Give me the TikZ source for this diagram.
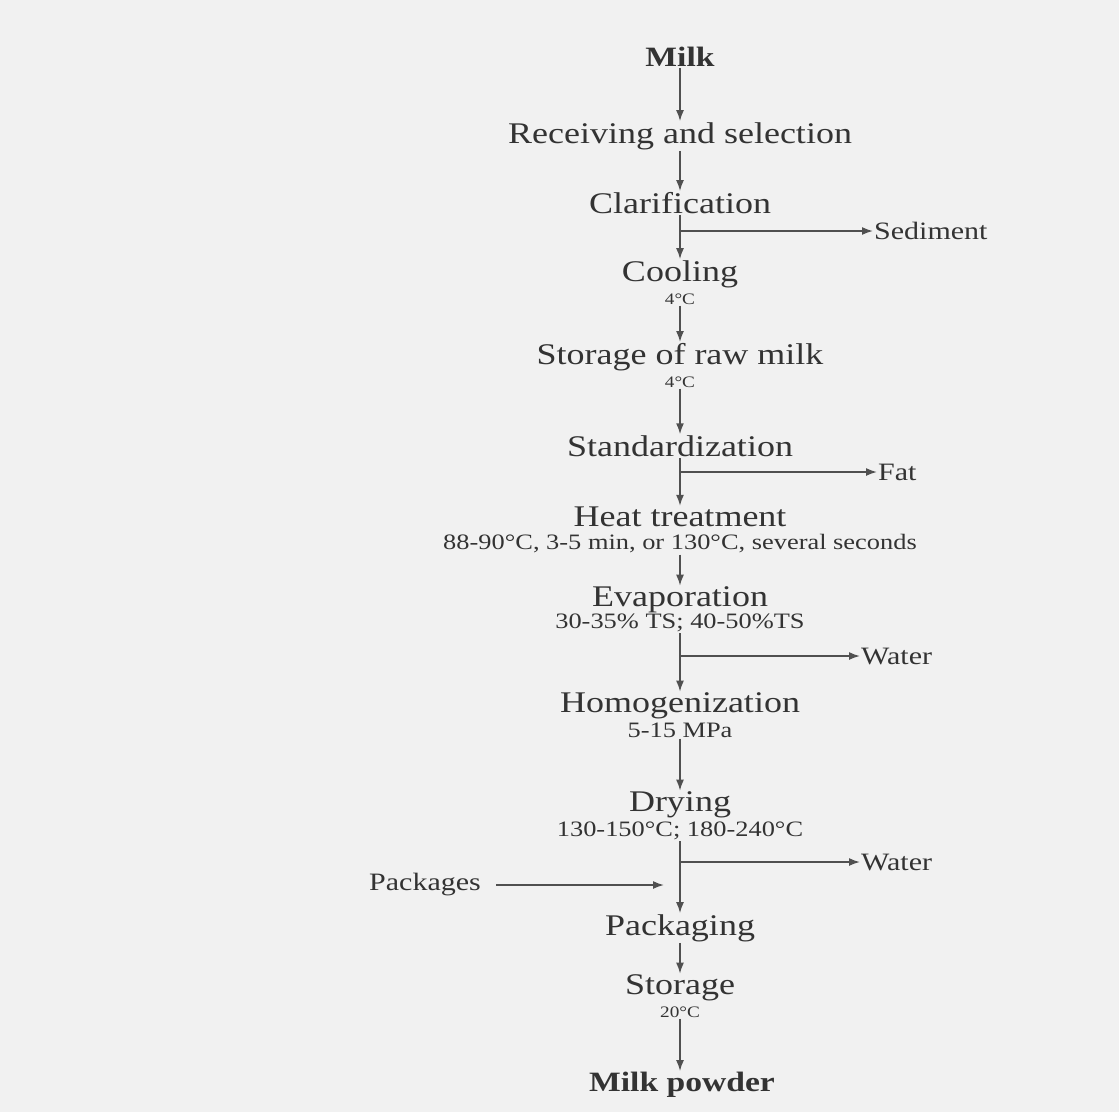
\documentclass[tikz,border=0pt]{standalone}
\usepackage{fontspec}
\setmainfont{Liberation Serif}[FakeStretch=1.2]
\usetikzlibrary{arrows.meta}
\definecolor{ink}{HTML}{333333}
\definecolor{wire}{HTML}{505050}
\definecolor{paper}{HTML}{F1F1F1}
\begin{document}
\begin{tikzpicture}[x=1pt,y=-1pt,
  stage/.style={font=\fontsize{30}{32}\selectfont, text=ink, inner sep=1pt},
  endstage/.style={font=\bfseries\fontsize{28}{30}\selectfont, text=ink, inner sep=1pt},
  cond/.style={font=\fontsize{22}{24}\selectfont, text=ink, inner sep=1pt},
  tinycond/.style={font=\fontsize{16}{18}\selectfont, text=ink, inner sep=1pt},
  side/.style={font=\fontsize{25}{27}\selectfont, text=ink, inner sep=1pt},
  wireline/.style={draw=wire, line width=1.6pt},
  arr/.style={wireline, -{Latex[length=11pt,width=8pt]}}
]
\fill[paper] (0,0) rectangle (1119,1112);
\useasboundingbox (0,0) rectangle (1119,1112);

% main stages
\node[endstage] (milk) at (680,57) {Milk};
\node[stage] (recv) at (680,136) {Receiving and selection};
\node[stage] (clar) at (680,203) {Clarification};
\node[stage] (cool) at (680,274) {Cooling};
\node[tinycond] (coolT) at (680,299) {4°C};
\node[stage] (raw) at (680,357) {Storage of raw milk};
\node[tinycond] (rawT) at (680,382) {4°C};
\node[stage] (std) at (680,446) {Standardization};
\node[stage] (heat) at (680,517) {Heat treatment};
\node[cond] (heatT) at (680,544) {88-90°C, 3-5 min, or 130°C, several seconds};
\node[stage] (evap) at (680,600) {Evaporation};
\node[cond] (evapT) at (680,623) {30-35\% TS; 40-50\%TS};
\node[stage] (homo) at (680,706) {Homogenization};
\node[cond] (homoT) at (680,730) {5-15 MPa};
\node[stage] (dry) at (680,805) {Drying};
\node[cond] (dryT) at (680,831) {130-150°C; 180-240°C};
\node[stage] (pack) at (680,928) {Packaging};
\node[stage] (stor) at (680,988) {Storage};
\node[tinycond] (storT) at (680,1012) {20°C};
\node[endstage] (powder) at (682,1085) {Milk powder};

% side streams
\node[side, anchor=west] (sed) at (873,231) {Sediment};
\node[side, anchor=west] (fat) at (877,472) {Fat};
\node[side, anchor=west] (water1) at (860,656) {Water};
\node[side, anchor=west] (water2) at (860,862) {Water};
\node[side, anchor=east] (pkgs) at (482,885) {Packages};

\coordinate (b1) at (680,231);
\coordinate (b2) at (680,472);
\coordinate (b3) at (680,656);
\coordinate (b4) at (680,862);
\coordinate (pin) at (664,885);

% main flow
\draw[arr] (milk) -- (recv);
\draw[arr] (recv) -- (clar);
\draw[arr] (clar) -- (cool);
\draw[arr] (coolT) -- (raw);
\draw[arr] (rawT) -- (std);
\draw[arr] (std) -- (heat);
\draw[arr] (heatT) -- (evap);
\draw[arr] (evapT) -- (homo);
\draw[arr] (homoT) -- (dry);
\draw[arr] (dryT) -- (pack);
\draw[arr] (pack) -- (stor);
\draw[arr] (storT) -- (storT |- powder.north);

% branches
\draw[arr] (b1) -- (sed);
\draw[arr] (b2) -- (fat);
\draw[arr] (b3) -- (water1);
\draw[arr] (b4) -- (water2);
\draw[arr, shorten <=14pt] (pkgs) -- (pin);
\end{tikzpicture}
\end{document}
